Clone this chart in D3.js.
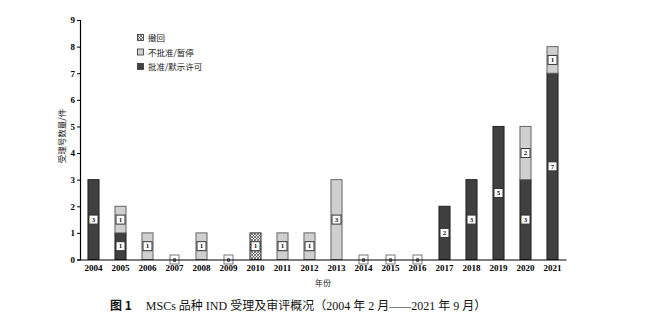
<!DOCTYPE html>
<html><head><meta charset="utf-8">
<script src="https://cdn.jsdelivr.net/npm/d3@7"></script>
<style>body{margin:0;background:#fff}svg{display:block}</style>
</head><body>
<svg id="c" width="647" height="323"></svg>
<script>
const years = ["2004","2005","2006","2007","2008","2009","2010","2011","2012","2013","2014","2015","2016","2017","2018","2019","2020","2021"];
const approved  = [3,1,0,0,0,0,0,0,0,0,0,0,0,2,3,5,3,7];
const rejected  = [0,1,1,0,1,0,0,1,1,3,0,0,0,0,0,0,2,1];
const withdrawn = [0,0,0,0,0,0,1,0,0,0,0,0,0,0,0,0,0,0];
const seriesNames = ["批准/默示许可","不批准/暂停","撤回"];
const yTicks = [0,1,2,3,4,5,6,7,8,9];
const yTitle = "受理号数量/件";
const xTitle = "年份";
const captionLabel = "图 1";
const captionParts = ["MSCs 品种 IND 受理及审评概况", "（2004 年 2 月", "—", "2021 年 9 月）"];

const svg = d3.select("#c");
const defs = svg.append("defs");
const pat = defs.append("pattern").attr("id","hatch").attr("patternUnits","userSpaceOnUse").attr("width",3).attr("height",3);
pat.append("rect").attr("width",3).attr("height",3).attr("fill","#e8e8e8");
pat.append("path").attr("d","M0,3L3,0M0,0L3,3").attr("stroke","#333").attr("stroke-width",0.6);

const x = d3.scaleBand().domain(years).range([80,566]).paddingInner(0.59).paddingOuter(0.295);
const y = d3.scaleLinear().domain([0,9]).range([259.5,20]);

const fills = ["#404040","#cfcfcf","url(#hatch)"];
const strokes = ["#222","#666","#333"];
const data = years.map((yr,i)=>({yr, vals:[approved[i],rejected[i],withdrawn[i]]}));
const serif = "'Liberation Serif','Times New Roman',serif";
const cjk = "'Liberation Serif','Noto Sans CJK SC',serif";

// bars
data.forEach(d=>{
  let base=0;
  d.vals.forEach((v,k)=>{
    if(v>0){
      svg.append("rect").attr("x",x(d.yr)).attr("width",x.bandwidth())
        .attr("y",y(base+v)).attr("height",y(base)-y(base+v))
        .attr("fill",fills[k]).attr("stroke",strokes[k]).attr("stroke-width",1);
    }
    base+=v;
  });
});
// labels
function label(cx,cy,t,stroke){
  svg.append("rect").attr("x",cx-4.5).attr("y",cy-4.5).attr("width",9).attr("height",9)
    .attr("fill","#fff").attr("stroke",stroke).attr("stroke-width",1);
  svg.append("text").attr("x",cx).attr("y",cy+2.3).attr("text-anchor","middle")
    .attr("font-family",serif).attr("font-weight","bold").attr("font-size",7).attr("fill","#111").text(t);
}
data.forEach(d=>{
  const cx = x(d.yr)+x.bandwidth()/2;
  const total = d3.sum(d.vals);
  if(total===0){ label(cx,y(0),"0","#777"); return; }
  let base=0;
  d.vals.forEach((v,k)=>{
    if(v>0) label(cx,y(base+v/2),String(v),"#333");
    base+=v;
  });
});

// axes
const ya = svg.append("g").attr("transform","translate(80,0)")
  .call(d3.axisLeft(y).tickValues(yTicks).tickSize(3).tickPadding(2).tickFormat(d3.format("d")));
ya.select(".domain").attr("stroke","#000").attr("stroke-width",1.2);
ya.selectAll("line").attr("stroke","#000");
ya.selectAll("text").attr("font-family",serif).attr("font-weight","bold").attr("font-size",9).attr("fill","#000");

const xa = svg.append("g").attr("transform","translate(0,259.5)")
  .call(d3.axisBottom(x).tickSize(0).tickPadding(5).tickSizeOuter(0));
xa.select(".domain").attr("stroke","#000").attr("stroke-width",1.2);
xa.selectAll("text").attr("font-family",serif).attr("font-weight","bold").attr("font-size",9).attr("fill","#000");

// titles
svg.append("text").attr("x",323).attr("y",286).attr("text-anchor","middle")
  .attr("font-family","'Noto Sans CJK SC',sans-serif").attr("font-size",8).attr("fill","#222").text(xTitle);
svg.append("text").attr("transform","translate(65,136) rotate(-90)").attr("text-anchor","middle")
  .attr("font-family","'Noto Sans CJK SC',sans-serif").attr("font-size",8.5).attr("fill","#222").text(yTitle);

// legend
const legOrder = [2,1,0];
legOrder.forEach((k,i)=>{
  const ly = 38 + i*14.5;
  svg.append("rect").attr("x",137.5).attr("y",ly-3.5).attr("width",6).attr("height",6)
    .attr("fill",fills[k]).attr("stroke","#333").attr("stroke-width",0.8);
  svg.append("text").attr("x",148).attr("y",ly+3).attr("font-family","'Noto Sans CJK SC',sans-serif")
    .attr("font-size",8.5).attr("fill","#222").text(seriesNames[k]);
});

// caption
const cap = svg.append("text").attr("x",110).attr("y",310).attr("font-size",12).attr("fill","#111");
cap.append("tspan").attr("font-family","'Noto Sans CJK SC',sans-serif").attr("font-weight","bold").text(captionLabel);
cap.append("tspan").attr("dx",14).attr("font-family",cjk).text(captionParts[0]);
cap.append("tspan").attr("font-family","'Noto Sans CJK SC',sans-serif").text(captionParts[1].slice(0,1));
cap.append("tspan").attr("font-family",cjk).text(captionParts[1].slice(1));
cap.append("tspan").attr("font-family",cjk).attr("textLength",22).attr("lengthAdjust","spacingAndGlyphs").text(captionParts[2]);
cap.append("tspan").attr("font-family",cjk).text(captionParts[3].slice(0,-1));
cap.append("tspan").attr("font-family","'Noto Sans CJK SC',sans-serif").text(captionParts[3].slice(-1));
</script>
</body></html>
